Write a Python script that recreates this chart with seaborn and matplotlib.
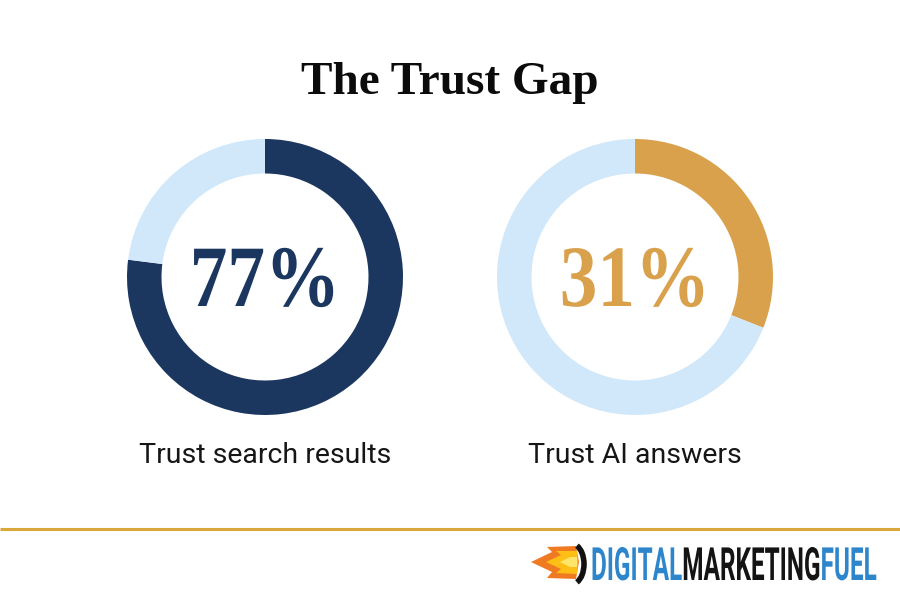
import matplotlib
matplotlib.use("Agg")
import matplotlib.pyplot as plt
from matplotlib.patches import Polygon, Arc
from matplotlib.patheffects import AbstractPathEffect
from matplotlib.transforms import Affine2D, Bbox
from matplotlib.colors import to_rgb
import seaborn as sns

# data
title = "The Trust Gap"
labels = ["Trust search results", "Trust AI answers"]
shares = [77, 31]
accent_colors = ["#1B365F", "#D9A14B"]
track_color = "#D1E8FA"
logo_parts = ["DIGITAL", "MARKETING", "FUEL"]
logo_colors = ["#2D86CC", "#141414", "#2D86CC"]

sns.set_theme(style="white")
plt.rcParams["font.family"] = ["Roboto", "DejaVu Sans"]

W, H = 900, 600
fig = plt.figure(figsize=(9, 6), dpi=100)
fig.patch.set_facecolor("white")


class Squeeze(AbstractPathEffect):
    # squeeze glyphs horizontally around the text's anchor; optional colour bands
    def __init__(self, text, sx, bands=None):
        super().__init__()
        self.text = text
        self.sx = sx
        self.bands = bands

    def draw_path(self, renderer, gc, tpath, affine, rgbFace=None):
        t = self.text
        ax0 = t.get_transform().transform(t.get_position())[0]
        sq = Affine2D().translate(-ax0, 0).scale(self.sx, 1).translate(ax0, 0)
        if not self.bands:
            renderer.draw_path(gc, tpath, affine + sq, rgbFace)
            return
        for xa, xb, col in self.bands:
            gc0 = renderer.new_gc()
            gc0.copy_properties(gc)
            gc0.set_clip_rectangle(Bbox([[xa, 0], [xb, H]]))
            renderer.draw_path(gc0, tpath, affine + sq, to_rgb(col))
            gc0.restore()


# overlay in pixel coords (y down)
ov = fig.add_axes([0, 0, 1, 1])
ov.set_xlim(0, W)
ov.set_ylim(H, 0)
ov.axis("off")

# title
ov.text(W / 2, 94, title, ha="center", va="baseline", fontsize=34,
        fontweight="bold", family="Liberation Serif", color="#0B0B0B")

# donuts
centers = [265, 635]
cy, r = 277, 138
for cx, share, acc, lab in zip(centers, shares, accent_colors, labels):
    ax = fig.add_axes([(cx - r) / W, (H - cy - r) / H, 2 * r / W, 2 * r / H])
    ax.pie([share, 100 - share], colors=[acc, track_color], startangle=90,
           counterclock=False, radius=1,
           wedgeprops=dict(width=0.25, linewidth=0))
    ax.set_xlim(-1, 1)
    ax.set_ylim(-1, 1)
    ax.set_aspect("equal")
    ax.axis("off")
    pct = ov.text(cx, 306, f"{share}%", ha="center", va="baseline", fontsize=63,
                  fontweight="bold", family="Liberation Serif", color=acc)
    pct.set_path_effects([Squeeze(pct, 0.86)])
    ov.text(cx, 463, lab, ha="center", va="baseline", fontsize=20.5,
            color="#161616")

# gold rule
ov.plot([0, W], [529, 529], color="#DAA83A", lw=2.2, solid_capstyle="butt")

# logo: flame + bracket
ov.add_patch(Polygon([(531, 562), (552, 552), (547, 547), (576, 546), (579, 562),
                      (576, 579), (547, 578), (552, 572)],
                     closed=True, fc="#F07A22", ec="none"))
ov.add_patch(Polygon([(546, 562), (561, 555), (556, 551), (577, 551), (578, 562),
                      (577, 574), (556, 573), (561, 569)],
                     closed=True, fc="#FDBE16", ec="none"))
ov.add_patch(Polygon([(560, 562), (570, 557), (577, 557), (577, 567), (570, 567)],
                     closed=True, fc="#FFE66A", ec="none"))
ov.add_patch(Arc((572, 564), 24, 40, theta1=-75, theta2=75, color="#111111", lw=4))

# logo text: one string, squeezed toward its right end, coloured in bands
x0, x1 = 591, 877
logo_kw = dict(fontsize=33, fontweight="bold", family="Roboto")
renderer = fig.canvas.get_renderer()
prefixes = ["".join(logo_parts[:i + 1]) for i in range(len(logo_parts))]
probes = [ov.text(0, 580, p, **logo_kw) for p in prefixes]
pw = [p.get_window_extent(renderer).width for p in probes]
for p in probes:
    p.remove()
full_w = pw[-1]
sx = (x1 - x0) / full_w
edges = [0] + [x1 + (x1 - full_w + w - x1) * sx for w in pw[:-1]] + [W]
bands = [(edges[i], edges[i + 1], logo_colors[i]) for i in range(len(logo_parts))]
logo = ov.text(x1, 580, "".join(logo_parts), ha="right", va="baseline",
               color=logo_colors[0], **logo_kw)
logo.set_path_effects([Squeeze(logo, sx, bands)])

fig.savefig("out.png", dpi=100, facecolor="white")
